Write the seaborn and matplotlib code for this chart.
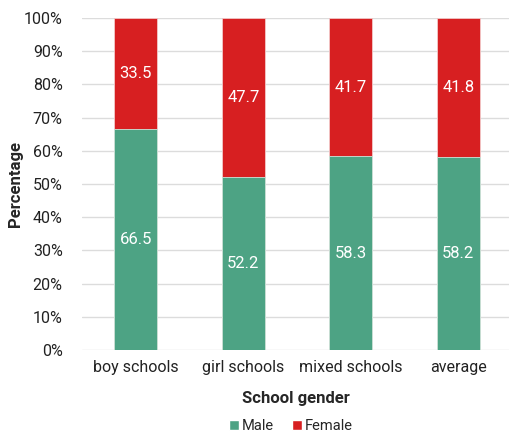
import matplotlib
matplotlib.use("Agg")
import matplotlib.pyplot as plt
import seaborn as sns
import pandas as pd
from matplotlib.patches import Patch
from matplotlib.ticker import PercentFormatter

categories = ["boy schools", "girl schools", "mixed schools", "average"]
male = [66.5, 52.2, 58.3, 58.2]
female = [33.5, 47.7, 41.7, 41.8]
yticks = [0, 10, 20, 30, 40, 50, 60, 70, 80, 90, 100]

GREEN = "#4DA384"
RED = "#D71F21"

sns.set_theme(style="white")
plt.rcParams["font.family"] = ["Roboto", "DejaVu Sans"]

df = pd.DataFrame({"school": categories, "male": male, "female": female})
df["total"] = df["male"] + df["female"]

fig = plt.figure(figsize=(5.10, 4.34), dpi=100)
ax = fig.add_axes([0.161, 0.1935, 0.839, 0.765])

# stacked bars: female segment sits on top of the male segment
sns.barplot(data=df, x="school", y="total", color=RED, saturation=1,
            width=0.4, edgecolor="#f3c9c9", linewidth=0.6, ax=ax, zorder=2)
sns.barplot(data=df, x="school", y="male", color=GREEN, saturation=1,
            width=0.4, edgecolor="#cfe6dc", linewidth=0.6, ax=ax, zorder=3)

for i, (m, f) in enumerate(zip(male, female)):
    ax.text(i, m / 2, f"{m:.1f}", ha="center", va="center",
            color="white", fontsize=12, zorder=4)
    ax.text(i, m + f / 2, f"{f:.1f}", ha="center", va="center",
            color="white", fontsize=12, zorder=4)

ax.set_ylim(0, 100)
ax.set_xlim(-0.5, 3.48)
ax.set_yticks(yticks)
ax.yaxis.set_major_formatter(PercentFormatter(decimals=0))
ax.grid(axis="y", color="#dcdcdc", linewidth=1, zorder=0)
ax.set_axisbelow(True)
for s in ax.spines.values():
    s.set_visible(False)
ax.tick_params(axis="both", length=0, labelsize=11.5, colors="#222222")
ax.tick_params(axis="y", pad=14)
ax.tick_params(axis="x", pad=7)

ax.set_xlabel("School gender", fontsize=12, fontweight="bold")
ax.set_ylabel("Percentage", fontsize=12, fontweight="bold")
ax.xaxis.set_label_coords(0.5, -0.123)
ax.yaxis.set_label_coords(-0.138, 0.5)

handles = [Patch(facecolor=GREEN, label="Male"), Patch(facecolor=RED, label="Female")]
fig.legend(handles=handles, loc="center", bbox_to_anchor=(0.57, 0.018),
           ncol=2, frameon=False, fontsize=10.5, handlelength=0.7,
           handleheight=0.7, handletextpad=0.2, columnspacing=1.2)

fig.savefig("out.png", dpi=100)
